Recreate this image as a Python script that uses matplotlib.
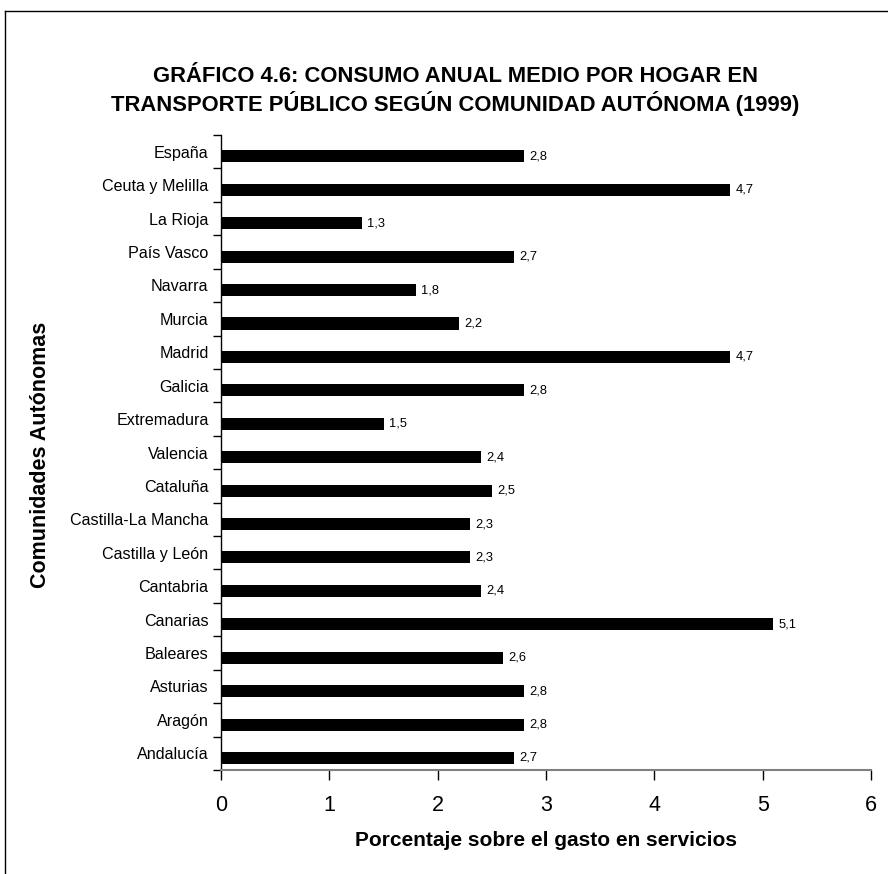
import matplotlib
matplotlib.use("Agg")
import matplotlib.pyplot as plt
from matplotlib.lines import Line2D

plt.rcParams['font.family'] = ['Liberation Sans', 'DejaVu Sans']

# Communities listed bottom to top as drawn
comunidades = ["Andalucía", "Aragón", "Asturias", "Baleares", "Canarias",
               "Cantabria", "Castilla y León", "Castilla-La Mancha", "Cataluña",
               "Valencia", "Extremadura", "Galicia", "Madrid", "Murcia",
               "Navarra", "País Vasco", "La Rioja", "Ceuta y Melilla", "España"]
porcentaje = [2.7, 2.8, 2.8, 2.6, 5.1, 2.4, 2.3, 2.3, 2.5, 2.4, 1.5, 2.8,
              4.7, 2.2, 1.8, 2.7, 1.3, 4.7, 2.8]
x_ticks = [0, 1, 2, 3, 4, 5, 6]

W, H = 888, 874
fig = plt.figure(figsize=(W / 100, H / 100), dpi=100)

# frame lines (left and top edges of the chart area)
fig.add_artist(Line2D([5 / W, 5 / W], [0, 1 - 11 / H], color="black", lw=1.0,
                      transform=fig.transFigure))
fig.add_artist(Line2D([5 / W, 1], [1 - 11 / H, 1 - 11 / H], color="black", lw=1.0,
                      transform=fig.transFigure))

left, right, top, bottom = 221 / W, 871 / W, 1 - 135 / H, 1 - 770 / H
ax = fig.add_axes([left, bottom, right - left, top - bottom])

n = len(comunidades)
pos = list(range(n))
bar_pos = [p - 0.14 for p in pos]
ax.barh(bar_pos, porcentaje, height=0.36, color="black")
for p, v in zip(bar_pos, porcentaje):
    ax.text(v + 0.05, p, f"{v:.1f}".replace(".", ","), va="center", ha="left",
            fontsize=9.3)

ax.set_xlim(0, 6)
ax.set_ylim(-0.5, n - 0.5)
ax.set_xticks(x_ticks)
ax.set_xticklabels([str(t) for t in x_ticks], fontsize=15.5)
ax.set_yticks(pos)
ax.set_yticklabels(comunidades, fontsize=11.6)
ax.set_yticks([i - 0.5 for i in range(n + 1)], minor=True)

ax.tick_params(axis="y", which="major", length=0, pad=9)
ax.tick_params(axis="y", which="minor", length=5.5, width=1, color="black")
ax.tick_params(axis="x", which="major", length=7, width=1, color="black", pad=11)

for s in ["top", "right"]:
    ax.spines[s].set_visible(False)
ax.spines["left"].set_color("black")
ax.spines["left"].set_linewidth(1.0)
ax.spines["bottom"].set_color("#808080")
ax.spines["bottom"].set_linewidth(1.5)

fig.text(546 / W, 1 - 840 / H, "Porcentaje sobre el gasto en servicios",
         fontsize=15, fontweight="bold", ha="center", va="center")
fig.text(41 / W, 1 - 455 / H, "Comunidades Autónomas", rotation=90,
         fontsize=15.5, fontweight="bold", ha="center", va="center")

fig.text(455 / W, 1 - 76 / H, "GRÁFICO 4.6: CONSUMO ANUAL MEDIO POR HOGAR EN",
         fontsize=15.8, fontweight="bold", ha="center", va="center")
fig.text(455 / W, 1 - 104 / H,
         "TRANSPORTE PÚBLICO SEGÚN COMUNIDAD AUTÓNOMA (1999)",
         fontsize=15.8, fontweight="bold", ha="center", va="center")

fig.savefig("out.png", dpi=100)
